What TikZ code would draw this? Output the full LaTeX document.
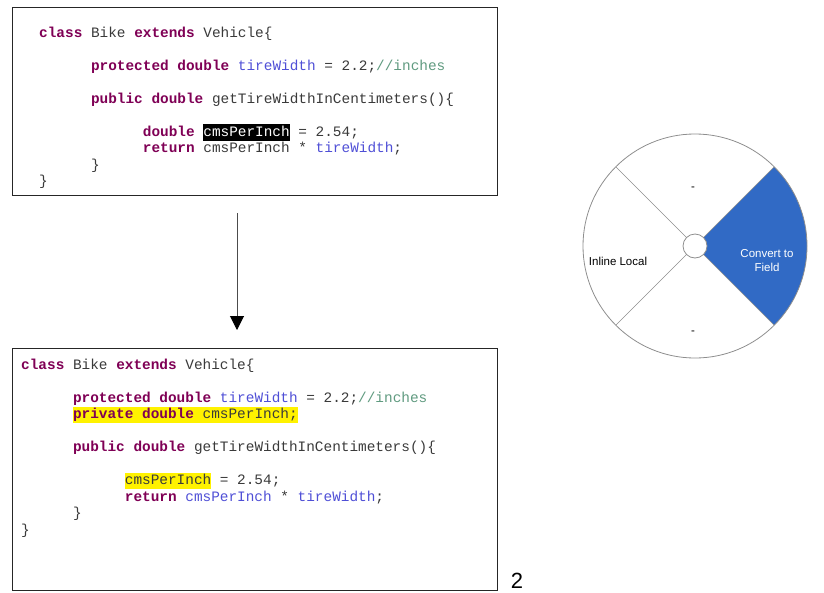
\documentclass[tikz,border=0pt]{standalone}
\usepackage{fontspec}
\setmainfont{Liberation Sans}
\setsansfont{Liberation Sans}
\setmonofont{Liberation Mono}
\usetikzlibrary{arrows.meta}

\definecolor{kwpurple}{HTML}{7F0055}
\definecolor{idblue}{HTML}{4F4FD6}
\definecolor{cmgreen}{HTML}{5F9A7F}
\definecolor{codegray}{HTML}{3A3A3A}
\definecolor{wheelblue}{HTML}{316AC5}
\definecolor{rimgray}{HTML}{8E8E8E}

\newcommand{\kw}[1]{\textcolor{kwpurple}{\textbf{#1}}}
\newcommand{\id}[1]{\textcolor{idblue}{#1}}
\newcommand{\cm}[1]{\textcolor{cmgreen}{#1}}
\newcommand{\codetab}{\hspace*{3.6em}}
\newcommand{\hlbox}[2]{{\setlength{\fboxsep}{0pt}\colorbox{#1}{\rule[-4.5pt]{0pt}{16.5pt}#2}}}

\tikzset{
  codebox/.style={draw=black!85, line width=0.8pt, inner sep=0pt, anchor=north west},
  code/.style={inner sep=0pt, anchor=north west, align=left, text=codegray,
    font=\fontsize{14.4}{16.5}\selectfont\ttfamily},
  flow/.style={-{Triangle[width=14pt,length=14pt,color=black]}, line width=1pt, black!70},
  rim/.style={draw=rimgray, line width=0.8pt},
  wheeltext/.style={font=\fontsize{11.5}{14}\selectfont, align=center}
}

\begin{document}
\begin{tikzpicture}[x=1pt,y=-1pt]
\useasboundingbox (0,0) rectangle (824,592);

% code before the refactoring
\node[codebox, minimum width=485pt, minimum height=188pt] (old) at (12,7) {};
\node[code] (oldcode) at (39,24) {\rule{0pt}{13pt}\kw{class} Bike \kw{extends} Vehicle\{\\[16.5pt]
\codetab\kw{protected} \kw{double} \id{tireWidth} = 2.2;\cm{//inches}\\[16.5pt]
\codetab\kw{public} \kw{double} getTireWidthInCentimeters()\{\\[16.5pt]
\codetab\codetab\kw{double} \hlbox{black}{\textcolor{white}{cmsPerInch}} = 2.54;\\
\codetab\codetab\kw{return} cmsPerInch * \id{tireWidth};\\
\codetab\}\\
\}};

% code after the refactoring
\node[codebox, minimum width=485pt, minimum height=242pt] (new) at (12,348) {};
\node[code] (newcode) at (21,356) {\rule{0pt}{13pt}\kw{class} Bike \kw{extends} Vehicle\{\\[16.5pt]
\codetab\kw{protected} \kw{double} \id{tireWidth} = 2.2;\cm{//inches}\\
\codetab\hlbox{yellow}{\kw{private} \kw{double} cmsPerInch;}\\[16.5pt]
\codetab\kw{public} \kw{double} getTireWidthInCentimeters()\{\\[16.5pt]
\codetab\codetab\hlbox{yellow}{cmsPerInch} = 2.54;\\
\codetab\codetab\kw{return} \id{cmsPerInch} * \id{tireWidth};\\
\codetab\}\\
\}};

% arrow between the two versions
\coordinate (flowstart) at (237,213);
\coordinate (flowend) at (237,330);
\draw[flow] (flowstart) -- (flowend);

% page number
\node[font=\fontsize{22}{24}\selectfont\sffamily] (page) at (517,581) {2};

% refactoring wheel
\coordinate (hub) at (695,246);
\fill[wheelblue] (hub) -- ++(-45:112) arc[start angle=-45, end angle=45, radius=112] -- cycle;
\draw[rim] (hub) circle[radius=112];
\foreach \a in {45,135,225,315}
  \draw[rim, line width=0.6pt] (hub) ++(\a:12) -- ++(\a:100);
\node[rim, circle, fill=white, minimum size=24pt, inner sep=0pt] (hubring) at (hub) {};

\node[wheeltext] (up) at (693,189) {-};
\node[wheeltext] (down) at (693,333) {-};
\node[wheeltext] (inline) at (618,261) {Inline Local};
\node[wheeltext, text=white] (convert) at (767,261) {Convert to\\Field};
\end{tikzpicture}
\end{document}
